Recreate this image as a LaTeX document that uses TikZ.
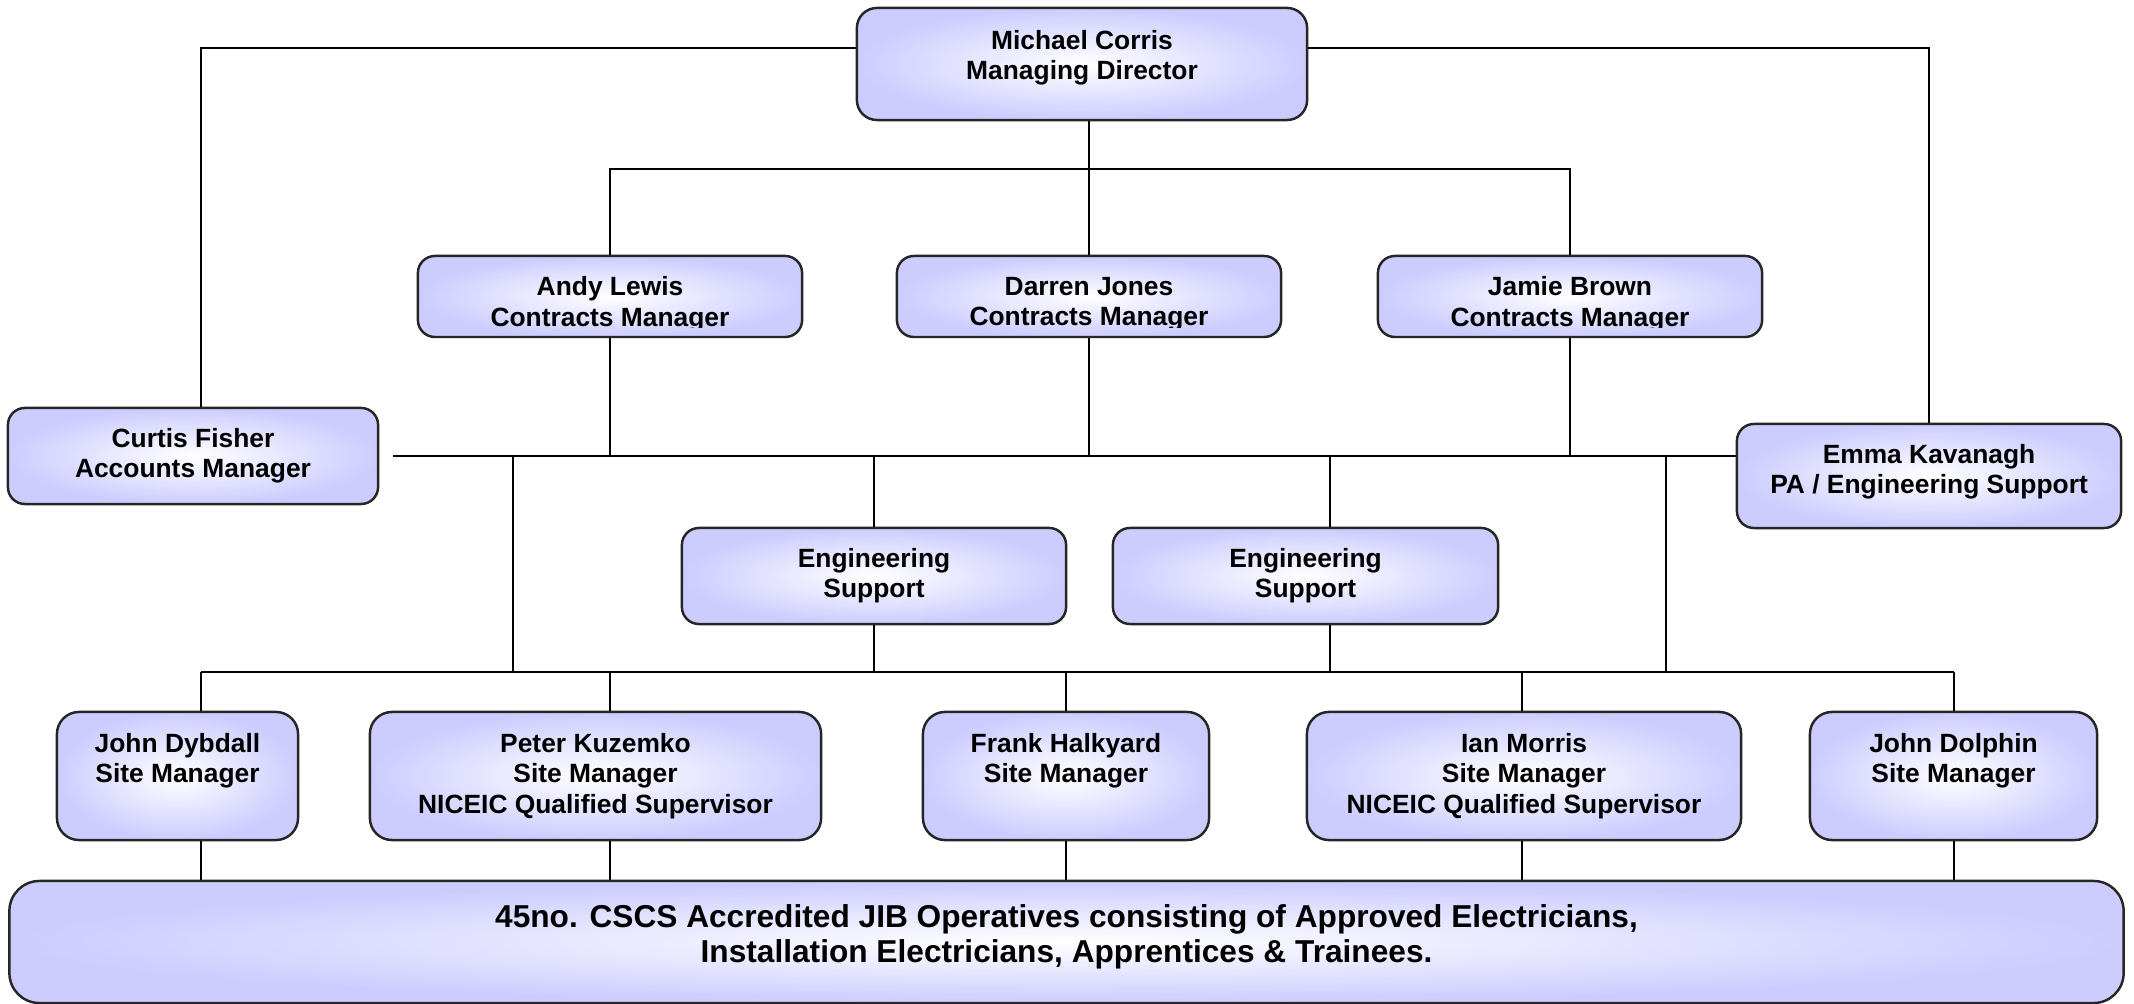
\documentclass[tikz,border=0pt]{standalone}
\usepackage{fontspec}
\setmainfont{Liberation Sans}
\definecolor{lav}{RGB}{204,204,255}
\newcommand{\orgfont}{\fontsize{7.5}{8.6}\selectfont\bfseries}
\newcommand{\crewfont}{\fontsize{9}{10.2}\selectfont\bfseries}

\tikzset{
  orgbox/.style={draw=black!85, line width=0.7pt, rounded corners=0.17cm,
    inner color=white, outer color=lav, align=center, inner sep=0pt, font=\orgfont},
  cmbox/.style 2 args={orgbox, minimum width=3.84cm, minimum height=0.81cm,
    path picture={
      \clip ([yshift=2.6pt]path picture bounding box.south west) rectangle (path picture bounding box.north east);
      \node[font=\orgfont, align=center, inner sep=0pt, minimum size=0pt] (#1) at ([yshift=-2.2pt]path picture bounding box.center) {#2};}},
  sitebox/.style={orgbox, minimum height=1.28cm, rounded corners=0.22cm},
  shortsite/.style={sitebox, text depth=10.2pt},
  link/.style={line width=0.5pt},
}

\begin{document}
\begin{tikzpicture}[x=0.01cm, y=-0.01cm]
  \useasboundingbox (0,0) rectangle (2134,1004);

  % top
  \node[orgbox, minimum width=4.5cm, minimum height=1.12cm, text depth=5pt, rounded corners=0.2cm] (md) at (1082,64) {Michael Corris\\Managing Director};

  % contracts managers
  \node[cmbox={andytext}{Andy Lewis\\Contracts Manager}] (andy) at (610,296.5) {};
  \node[cmbox={darrentext}{Darren Jones\\Contracts Manager}] (darren) at (1089,296.5) {};
  \node[cmbox={jamietext}{Jamie Brown\\Contracts Manager}] (jamie) at (1570,296.5) {};

  % side boxes
  \node[orgbox, minimum width=3.7cm, minimum height=0.96cm] (curtis) at (193,456) {Curtis Fisher\\Accounts Manager};
  \node[orgbox, minimum width=3.84cm, minimum height=1.04cm, text depth=3.8pt] (emma) at (1929,476) {Emma Kavanagh\\PA / Engineering Support};

  % engineering support
  \node[orgbox, minimum width=3.84cm, minimum height=0.96cm] (eng1) at (874,576) {Engineering\\Support};
  \node[orgbox, minimum width=3.85cm, minimum height=0.96cm] (eng2) at (1305.5,576) {Engineering\\Support};

  % site managers
  \node[shortsite, minimum width=2.41cm] (dybdall) at (177.5,776) {John Dybdall\\Site Manager};
  \node[sitebox, minimum width=4.51cm] (peter) at (595.5,776) {Peter Kuzemko\\Site Manager\\NICEIC Qualified Supervisor};
  \node[shortsite, minimum width=2.86cm] (frank) at (1066,776) {Frank Halkyard\\Site Manager};
  \node[sitebox, minimum width=4.34cm] (ian) at (1524,776) {Ian Morris\\Site Manager\\NICEIC Qualified Supervisor};
  \node[shortsite, minimum width=2.87cm] (dolphin) at (1953.5,776) {John Dolphin\\Site Manager};

  % operatives
  \node[orgbox, minimum width=21.13cm, minimum height=1.22cm, text depth=4.8pt, rounded corners=0.3cm, font=\crewfont] (crew) at (1066.5,942)
    {45no. CSCS Accredited JIB Operatives consisting of Approved Electricians,\\Installation Electricians, Apprentices \& Trainees.};

  % lines
  \coordinate (midbus) at (393,456);
  \coordinate (lowbus) at (201,672);

  \draw[link] (md.west |- 0,48) -| (201,0 |- curtis.north);
  \draw[link] (md.east |- 0,48) -| (emma.north);
  \draw[link] (andy.north) |- (jamie.north |- 0,169) -- (jamie.north);
  \draw[link] (darren.north) -- (darren.north |- md.south);

  \draw[link] (midbus) -- (midbus -| emma.west);
  \foreach \n in {andy,darren,jamie}
    \draw[link] (\n.south) -- (\n.south |- midbus);
  \draw[link] (eng1.north) -- (eng1.north |- midbus);
  \draw[link] (eng2.north -| 1330,0) -- (1330,0 |- midbus);
  \draw[link] (eng1.south) -- (eng1.south |- lowbus);
  \draw[link] (eng2.south -| 1330,0) -- (1330,0 |- lowbus);
  \foreach \x in {513,1666}
    \draw[link] (\x,0 |- midbus) -- (\x,0 |- lowbus);

  \draw[link] (lowbus) -- (1954,0 |- lowbus);
  \foreach \n/\x in {dybdall/201,peter/610,frank/1066,ian/1522,dolphin/1954}{
    \draw[link] (\x,0 |- lowbus) -- (\n.north -| \x,0);
    \draw[link] (\n.south -| \x,0) -- (\x,0 |- crew.north);
  }
\end{tikzpicture}
\end{document}
